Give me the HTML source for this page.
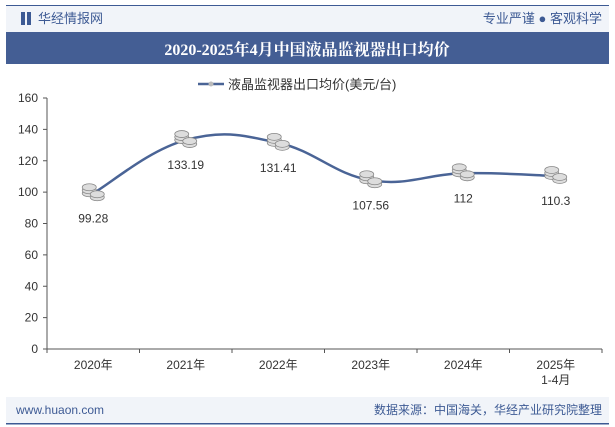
<!DOCTYPE html>
<html><head><meta charset="utf-8"><style>
body{margin:0;width:615px;height:427px;overflow:hidden;background:#fff;font-family:"Liberation Sans","Noto Sans CJK SC",sans-serif}
</style></head><body>
<svg width="615" height="427" style="position:absolute;left:0;top:0">
<rect x="6" y="5" width="603" height="1.5" fill="#3d5a94"/>
<rect x="6" y="6" width="603" height="26" fill="#f1f4f9"/>
<rect x="21" y="12" width="4" height="13" fill="#3d5a94"/><rect x="27" y="12" width="4" height="13" fill="#3d5a94"/>
<text x="38" y="23" font-size="13" fill="#3d5a94">华经情报网</text>
<text x="602" y="23" font-size="13" fill="#3d5a94" text-anchor="end">专业严谨 ● 客观科学</text>
<rect x="6" y="32" width="603" height="32" fill="#445e94"/>
<text x="307" y="55" font-size="16" font-weight="bold" fill="#fff" text-anchor="middle" font-family="'Liberation Serif','Noto Serif CJK SC',serif">2020-2025年4月中国液晶监视器出口均价</text>
<line x1="198" y1="84" x2="224" y2="84" stroke="#4a6496" stroke-width="2.5"/>
<circle cx="211" cy="84" r="2.5" fill="#bbb"/>
<text x="228" y="89" font-size="13" fill="#333">液晶监视器出口均价(美元/台)</text>
<g id="axes"></g><g id="marks"></g>
<rect x="6" y="397" width="603" height="27" fill="#f1f4f9"/>
<rect x="6" y="423" width="603" height="1.5" fill="#3d5a94"/>
<text x="16" y="414" font-size="12" fill="#3d5a94">www.huaon.com</text>
<text x="602" y="414" font-size="12" fill="#3d5a94" text-anchor="end">数据来源：中国海关，华经产业研究院整理</text>
</svg>
<script>
const categories=["2020年","2021年","2022年","2023年","2024年","2025年|1-4月"];
const values=[99.28,133.19,131.41,107.56,112,110.3];
const valueLabels=["99.28","133.19","131.41","107.56","112","110.3"];
const yTicks=[0,20,40,60,80,100,120,140,160];
const NS="http://www.w3.org/2000/svg";
const x0=47,x1=602,yb=349,yt=98,ymax=160;
const bw=(x1-x0)/categories.length;
const X=i=>x0+bw*(i+0.5);
const Y=v=>yb-(v/ymax)*(yb-yt);
function mk(t,a,p){const e=document.createElementNS(NS,t);for(const k in a)e.setAttribute(k,a[k]);p.appendChild(e);return e;}
const ax=document.getElementById('axes'),mg=document.getElementById('marks');
const yl=mk('line',{x1:x0,y1:yt,x2:x0,y2:yb,stroke:'#555'},ax);


const xl=mk('line',{x1:x0,y1:yb,x2:x1,y2:yb,stroke:'#555'},ax);


yTicks.forEach(v=>{mk('line',{x1:x0-4,y1:Y(v),x2:x0,y2:Y(v),stroke:'#555'},ax);
const t=mk('text',{x:x0-9,y:Y(v)+4,'font-size':12,fill:'#333','text-anchor':'end'},ax);t.textContent=v;

});
for(let i=0;i<=categories.length;i++)mk('line',{x1:x0+bw*i,y1:yb,x2:x0+bw*i,y2:yb+4,stroke:'#555'},ax);
categories.forEach((c,i)=>{c.split('|').forEach((s,j)=>{const t=mk('text',{x:X(i),y:yb+20+j*15,'font-size':12,fill:'#333','text-anchor':'middle'},ax);t.textContent=s;

});});
const pts=values.map((v,i)=>[X(i),Y(v)]);
let d='M'+pts[0][0]+','+pts[0][1];
for(let i=0;i<pts.length-1;i++){const p0=pts[i-1]||pts[i],p1=pts[i],p2=pts[i+1],p3=pts[i+2]||p2;const k=0.2;
d+=` C${p1[0]+(p2[0]-p0[0])*k},${p1[1]+(p2[1]-p0[1])*k} ${p2[0]-(p3[0]-p1[0])*k},${p2[1]-(p3[1]-p1[1])*k} ${p2[0]},${p2[1]}`;}
const ln=mk('path',{d:d,fill:'none',stroke:'#4a6496','stroke-width':2.5},mg);


pts.forEach((p,i)=>{const g=mk('g',{},mg);


[[-4,0],[-4,-3],[-4,-6],[4,4],[4,1]].forEach(o=>mk('ellipse',{cx:p[0]+o[0],cy:p[1]+o[1],rx:7,ry:3.5,fill:'#ddd',stroke:'#888','stroke-width':0.8},g));
const t=mk('text',{x:p[0],y:p[1]+29,'font-size':12,fill:'#333','text-anchor':'middle'},mg);t.textContent=valueLabels[i];

});
</script>
</body></html>
